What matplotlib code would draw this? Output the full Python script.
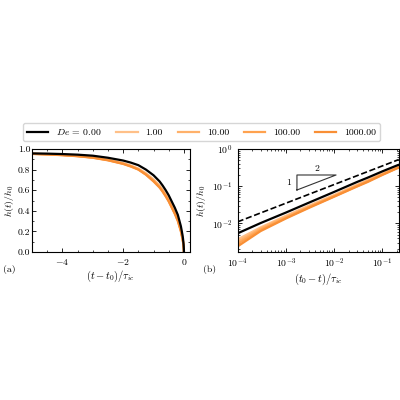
import numpy as np
import matplotlib
matplotlib.use("Agg")
import matplotlib.pyplot as plt

plt.rcParams['font.family'] = 'serif'
plt.rcParams['font.serif'] = ['cmr10', 'DejaVu Serif']
plt.rcParams['mathtext.fontset'] = 'cm'
plt.rcParams['axes.formatter.use_mathtext'] = True
plt.rcParams['axes.unicode_minus'] = True
plt.rcParams['font.size'] = 7

# time before pinch-off, (t0 - t)/tau_ic
tau = [1e-4, 3e-4, 1e-3, 3e-3, 1e-2, 3e-2, 0.05, 0.1, 0.2, 0.3, 0.4, 0.5, 0.6, 0.7, 0.8,
       1.0, 1.25, 1.5, 1.75, 2.0, 2.5, 3.0, 3.5, 4.0, 4.5, 5.0]
h_newt = [0.0054, 0.0102, 0.0195, 0.036, 0.070, 0.13, 0.17, 0.25, 0.36, 0.43, 0.49, 0.55, 0.60, 0.645, 0.685,
          0.745, 0.80, 0.843, 0.868, 0.888, 0.915, 0.935, 0.945, 0.951, 0.955, 0.957]
h_de1 = [0.0037, 0.0078, 0.016, 0.030, 0.058, 0.11, 0.145, 0.22, 0.32, 0.39, 0.45, 0.51, 0.56, 0.605, 0.645,
         0.705, 0.765, 0.81, 0.84, 0.863, 0.897, 0.92, 0.934, 0.943, 0.95, 0.955]
h_de10 = [0.0032, 0.0072, 0.015, 0.028, 0.055, 0.105, 0.14, 0.21, 0.31, 0.38, 0.44, 0.50, 0.55, 0.595, 0.635,
          0.695, 0.757, 0.805, 0.835, 0.86, 0.894, 0.918, 0.932, 0.942, 0.949, 0.954]
h_de100 = [0.0028, 0.0067, 0.014, 0.027, 0.053, 0.10, 0.135, 0.205, 0.305, 0.375, 0.435, 0.495, 0.545, 0.59, 0.63,
           0.69, 0.753, 0.802, 0.832, 0.857, 0.892, 0.916, 0.931, 0.941, 0.948, 0.953]
h_de1000 = [0.0024, 0.0062, 0.0135, 0.026, 0.052, 0.098, 0.13, 0.20, 0.30, 0.37, 0.43, 0.49, 0.54, 0.585, 0.625,
            0.685, 0.75, 0.80, 0.83, 0.855, 0.89, 0.915, 0.93, 0.94, 0.947, 0.952]
labels = ['$De$ = 0.00', '1.00', '10.00', '100.00', '1000.00']
colors = ['black', '#ffc088', '#ffb16a', '#ffa24e', '#f98f35']
series = [h_newt, h_de1, h_de10, h_de100, h_de1000]

# reference slope 1/2 line
ref_x = [1e-4, 0.22]
ref_y = [0.011, 0.52]
tri_x = [1.7e-3, 1.1e-2]
tri_y = [0.079, 0.2]

fig = plt.figure(figsize=(4, 4), dpi=100)
axA = fig.add_axes([0.08, 0.37, 0.395, 0.2575])
axB = fig.add_axes([0.594, 0.37, 0.403, 0.2575])

order = [1, 2, 3, 4, 0]
lines = {}
for i in order:
    h = np.array(series[i])
    t = np.array(tau)
    lw = 1.6
    xa = np.concatenate([-t[::-1], [0.0]])
    ya = np.concatenate([h[::-1], [0.0]])
    l, = axA.plot(xa, ya, color=colors[i], lw=lw, label=labels[i])
    axB.plot(t, h, color=colors[i], lw=lw)
    lines[i] = l

axB.plot(ref_x, ref_y, 'k--', lw=1.2)
axB.plot([tri_x[0], tri_x[0], tri_x[1], tri_x[0]], [tri_y[0], tri_y[1], tri_y[1], tri_y[0]],
         color='#333333', lw=0.8)
axB.text(tri_x[0] * 0.75, np.sqrt(tri_y[0] * tri_y[1]), '1', ha='right', va='center', fontsize=7)
axB.text(np.sqrt(tri_x[0] * tri_x[1]), tri_y[1] * 1.12, '2', ha='center', va='bottom', fontsize=7)

axA.set_xlim(-5, 0.2)
axA.set_ylim(0, 1.0)
axA.set_xticks([-4, -2, 0])
axA.set_yticks([0.0, 0.2, 0.4, 0.6, 0.8, 1.0])
axA.set_yticklabels(['0.0', '0.2', '0.4', '0.6', '0.8', '1.0'])
axA.set_xticklabels(['$-4$', '$-2$', '$0$'])
axA.xaxis.set_minor_locator(matplotlib.ticker.MultipleLocator(0.5))
axA.yaxis.set_minor_locator(matplotlib.ticker.MultipleLocator(0.1))
axA.set_xlabel(r'$(t-t_0)/\tau_{ic}$', fontsize=7.5, labelpad=1)
axA.set_ylabel(r'$h(t)/h_0$', fontsize=7)
axA.yaxis.set_label_coords(-0.1, 0.5)

axB.set_xscale('log')
axB.set_yscale('log')
axB.set_xlim(1e-4, 0.22)
axB.set_ylim(1.7e-3, 1.0)
axB.set_xlabel(r'$(t_0-t)/\tau_{ic}$', fontsize=7.5, labelpad=1)
axB.set_ylabel(r'$h(t)/h_0$', fontsize=7)
axB.yaxis.set_label_coords(-0.185, 0.5)
axB.yaxis.set_minor_locator(matplotlib.ticker.LogLocator(base=10, subs=np.arange(2, 10) * 0.1, numticks=20))
axB.xaxis.set_minor_locator(matplotlib.ticker.LogLocator(base=10, subs=np.arange(2, 10) * 0.1, numticks=20))
axB.yaxis.set_minor_formatter(matplotlib.ticker.NullFormatter())
axB.xaxis.set_minor_formatter(matplotlib.ticker.NullFormatter())

for ax in (axA, axB):
    ax.tick_params(which='both', direction='in', top=True, right=True, labelsize=7)
    ax.tick_params(which='major', length=3, width=0.6)
    ax.tick_params(which='minor', length=1.5, width=0.5)
    for s in ax.spines.values():
        s.set_linewidth(0.8)
axA.tick_params(axis='y', which='major', pad=1.2)

handles = [lines[i] for i in range(5)]
fig.legend(handles, labels, loc='lower left', bbox_to_anchor=(0.0575, 0.6475, 0.8925, 0.045),
           mode='expand', ncol=5, fontsize=7, handlelength=2.2, frameon=True,
           borderaxespad=0.0, handletextpad=0.8, borderpad=0.4)

fig.text(0.008, 0.327, '(a)', fontsize=7, va='center')
fig.text(0.508, 0.327, '(b)', fontsize=7, va='center')

fig.savefig('out.png', dpi=100)
